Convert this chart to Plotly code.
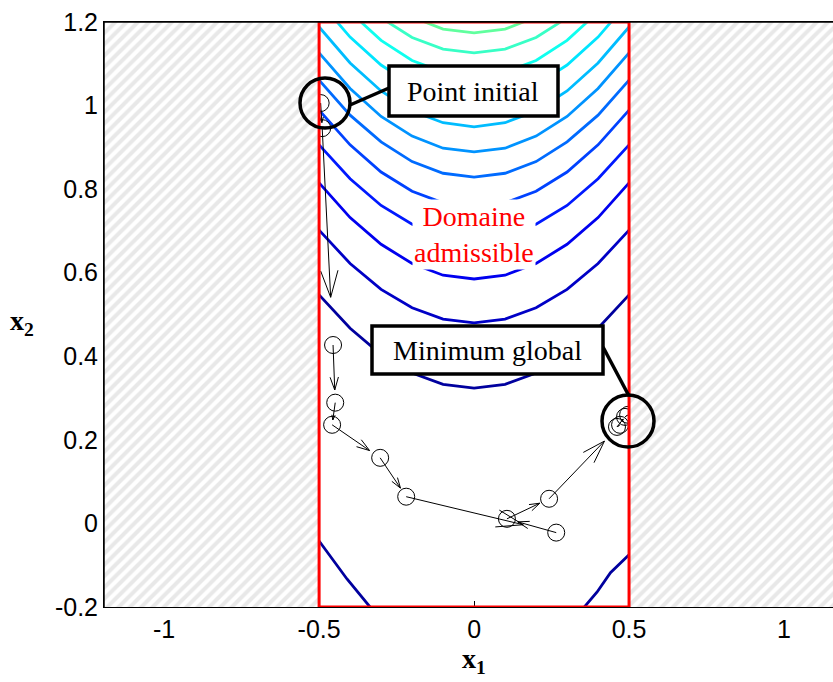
import math
import plotly.graph_objects as go

# ---------------- axes ----------------
X_RANGE = [-1.194, 1.158]
Y_RANGE = [-0.2, 1.2]
x_ticks = [-1, -0.5, 0, 0.5, 1]
x_ticklabels = ["-1", "-0.5", "0", "0.5", "1"]
y_ticks = [-0.2, 0, 0.2, 0.4, 0.6, 0.8, 1.0, 1.2]
y_ticklabels = ["-0.2", "0", "0.2", "0.4", "0.6", "0.8", "1", "1.2"]

# admissible domain
domain_x = [-0.5, 0.5]
domain_y = [-0.2, 1.2]

# ---------------- contour lines ----------------
contour_x = [-0.5, -0.4, -0.3, -0.2, -0.1, 0.0, 0.1, 0.2, 0.3, 0.4, 0.5]
contour_1 = [0.547, 0.467, 0.404, 0.360, 0.333, 0.324, 0.333, 0.360, 0.404, 0.467, 0.547]
contour_2 = [0.702, 0.622, 0.560, 0.516, 0.489, 0.480, 0.489, 0.516, 0.560, 0.622, 0.702]
contour_3 = [0.815, 0.732, 0.668, 0.622, 0.594, 0.585, 0.594, 0.622, 0.668, 0.732, 0.815]
contour_4 = [0.906, 0.825, 0.761, 0.716, 0.689, 0.680, 0.689, 0.716, 0.761, 0.825, 0.906]
contour_5 = [0.989, 0.906, 0.841, 0.795, 0.767, 0.758, 0.767, 0.795, 0.841, 0.906, 0.989]
contour_6 = [1.061, 0.977, 0.913, 0.866, 0.838, 0.829, 0.838, 0.866, 0.913, 0.977, 1.061]
contour_7 = [1.126, 1.041, 0.974, 0.927, 0.898, 0.889, 0.898, 0.927, 0.974, 1.041, 1.126]
contour_8 = [1.188, 1.102, 1.035, 0.987, 0.959, 0.949, 0.959, 0.987, 1.035, 1.102, 1.188]
contour_9 = [1.250, 1.164, 1.097, 1.049, 1.021, 1.011, 1.021, 1.049, 1.097, 1.164, 1.250]
contour_10 = [1.310, 1.224, 1.156, 1.108, 1.080, 1.070, 1.080, 1.108, 1.156, 1.224, 1.310]
contour_11 = [1.360, 1.276, 1.210, 1.163, 1.135, 1.126, 1.135, 1.163, 1.210, 1.276, 1.360]
contour_12 = [1.410, 1.325, 1.259, 1.212, 1.183, 1.174, 1.183, 1.212, 1.259, 1.325, 1.410]
upper_contours = [contour_1, contour_2, contour_3, contour_4, contour_5, contour_6,
                  contour_7, contour_8, contour_9, contour_10, contour_11, contour_12]
contour_levels = [0.03 + 0.04 * i for i in range(12)]

low_left_x = [-0.5, -0.41, -0.33]
low_left_y = [-0.042, -0.133, -0.205]
low_right_x = [0.5, 0.44, 0.397, 0.35]
low_right_y = [-0.075, -0.118, -0.164, -0.205]
low_level = 0.03

# ---------------- optimisation path ----------------
traj_x = [-0.495, -0.49, -0.455, -0.448, -0.458, -0.303, -0.219, 0.265, 0.106, 0.242,
          0.471, 0.461, 0.487, 0.497]
traj_y = [1.006, 0.946, 0.427, 0.289, 0.236, 0.157, 0.064, -0.022, 0.011, 0.059,
          0.236, 0.231, 0.255, 0.26]

# ---------------- layout geometry ----------------
W, H = 833, 682
ML, MR, MT, MB = 104, 0, 22, 75
PW, PH = W - ML - MR, H - MT - MB
SX = PW / (X_RANGE[1] - X_RANGE[0])
SY = PH / (Y_RANGE[1] - Y_RANGE[0])


def px2x(p):
    return X_RANGE[0] + (p - ML) / SX


def px2y(p):
    return Y_RANGE[1] - (p - MT) / SY


def jet(t):
    r = min(max(min(4 * t - 1.5, -4 * t + 4.5), 0), 1)
    g = min(max(min(4 * t - 0.5, -4 * t + 3.5), 0), 1)
    b = min(max(min(4 * t + 0.5, -4 * t + 2.5), 0), 1)
    return f"rgb({int(r*255)},{int(g*255)},{int(b*255)})"


fig = go.Figure()

# contour lines
for ys, lv in zip(upper_contours, contour_levels):
    fig.add_trace(go.Scatter(x=contour_x, y=ys, mode="lines",
                             line=dict(color=jet(lv), width=2.8), hoverinfo="skip",
                             showlegend=False))
for xs, ys in [(low_left_x, low_left_y), (low_right_x, low_right_y)]:
    fig.add_trace(go.Scatter(x=xs, y=ys, mode="lines",
                             line=dict(color=jet(low_level), width=2.8), hoverinfo="skip",
                             showlegend=False))

# arrows of the path (quiver-like, open heads)
ax_, ay_ = [], []
FRAC, HEAD_ANG = 0.78, math.radians(18)


def to_data(a, b):
    return (X_RANGE[0] + a / SX, Y_RANGE[1] - b / SY)


for i in range(len(traj_x) - 1):
    x0p = (traj_x[i] - X_RANGE[0]) * SX
    y0p = (Y_RANGE[1] - traj_y[i]) * SY
    x1p = (traj_x[i + 1] - X_RANGE[0]) * SX
    y1p = (Y_RANGE[1] - traj_y[i + 1]) * SY
    tx, ty = x0p + FRAC * (x1p - x0p), y0p + FRAC * (y1p - y0p)
    L = math.hypot(tx - x0p, ty - y0p)
    if L < 1e-6:
        continue
    h = min(0.3 * L, 28)
    ang = math.atan2(y0p - ty, x0p - tx)
    p0, pt = to_data(x0p, y0p), to_data(tx, ty)
    h1 = to_data(tx + h * math.cos(ang + HEAD_ANG), ty + h * math.sin(ang + HEAD_ANG))
    h2 = to_data(tx + h * math.cos(ang - HEAD_ANG), ty + h * math.sin(ang - HEAD_ANG))
    ax_ += [p0[0], pt[0], None, h1[0], pt[0], h2[0], None]
    ay_ += [p0[1], pt[1], None, h1[1], pt[1], h2[1], None]
fig.add_trace(go.Scatter(x=ax_, y=ay_, mode="lines", line=dict(color="black", width=1),
                         hoverinfo="skip", showlegend=False))
fig.add_trace(go.Scatter(x=traj_x, y=traj_y, mode="markers",
                         marker=dict(symbol="circle-open", size=17, color="black",
                                     line=dict(width=1, color="black")),
                         hoverinfo="skip", showlegend=False))

# hatched non-admissible regions
hatch = dict(shape="/", fgcolor="#d2d2d2", bgcolor="white", size=8, solidity=0.5)
for xa, xb in [(X_RANGE[0] - 0.05, domain_x[0]), (domain_x[1], X_RANGE[1] + 0.05)]:
    fig.add_trace(go.Scatter(x=[xa, xb, xb, xa, xa],
                             y=[domain_y[0], domain_y[0], domain_y[1], domain_y[1], domain_y[0]],
                             mode="lines", fill="toself", fillpattern=hatch,
                             line=dict(width=0, color="rgba(0,0,0,0)"),
                             hoverinfo="skip", showlegend=False))

shapes = []
# admissible domain border
shapes.append(dict(type="rect", xref="x", yref="y", x0=domain_x[0], x1=domain_x[1],
                   y0=domain_y[0], y1=domain_y[1], line=dict(color="red", width=3)))
# frame lines top / left
shapes.append(dict(type="line", xref="paper", yref="paper", x0=0, x1=1, y0=1, y1=1,
                   line=dict(color="black", width=1.5)))
shapes.append(dict(type="line", xref="paper", yref="paper", x0=0, x1=0, y0=0, y1=1,
                   line=dict(color="black", width=1.5)))


def circle(cx, cy, r):
    return dict(type="circle", xref="x", yref="y",
                x0=px2x(cx - r), x1=px2x(cx + r), y0=px2y(cy + r), y1=px2y(cy - r),
                line=dict(color="black", width=3.5))


def rect(xa, ya, xb, yb):
    return dict(type="rect", xref="x", yref="y", x0=px2x(xa), x1=px2x(xb),
                y0=px2y(yb), y1=px2y(ya), fillcolor="white",
                line=dict(color="black", width=3.5))


def seg(xa, ya, xb, yb):
    return dict(type="line", xref="x", yref="y", x0=px2x(xa), x1=px2x(xb),
                y0=px2y(ya), y1=px2y(yb), line=dict(color="black", width=3.5))


# callouts
shapes += [circle(325, 103, 25), seg(350, 105, 389, 88), rect(389, 66, 558, 116)]
shapes += [circle(628, 421, 26), seg(603, 347, 629, 396), rect(372, 326, 603, 374)]

annotations = [
    dict(x=px2x(473), y=px2y(91), xref="x", yref="y", text="Point initial", showarrow=False,
         font=dict(family="Liberation Serif", size=28, color="black")),
    dict(x=px2x(487), y=px2y(350), xref="x", yref="y", text="Minimum global", showarrow=False,
         font=dict(family="Liberation Serif", size=28, color="black")),
    dict(x=0, y=px2y(234), xref="x", yref="y", text="Domaine<br>admissible", showarrow=False,
         font=dict(family="Liberation Serif", size=28, color="red"), bgcolor="white"),
    dict(x=0, y=0, xref="x", yref="paper", yshift=-53, text="<b>x</b><sub><b>1</b></sub>",
         showarrow=False, yanchor="middle",
         font=dict(family="Liberation Serif", size=28, color="black")),
    dict(x=0, y=px2y(322), xref="paper", yref="y", xshift=-82, text="<b>x</b><sub><b>2</b></sub>",
         showarrow=False, xanchor="center",
         font=dict(family="Liberation Serif", size=28, color="black")),
]

fig.update_layout(
    width=W, height=H, margin=dict(l=ML, r=MR, t=MT, b=MB),
    plot_bgcolor="white", paper_bgcolor="white", showlegend=False,
    shapes=shapes, annotations=annotations,
    font=dict(family="Liberation Sans", size=25, color="black"),
)
fig.update_xaxes(range=X_RANGE, tickvals=x_ticks, ticktext=x_ticklabels, ticks="inside",
                 ticklen=6, tickcolor="black", showgrid=False, zeroline=False,
                 showline=True, linecolor="black", mirror=True, layer="below traces",
                 tickfont=dict(family="Liberation Sans", size=25))
fig.update_yaxes(range=Y_RANGE, tickvals=y_ticks, ticktext=y_ticklabels, ticks="inside",
                 ticklen=6, tickcolor="black", showgrid=False, zeroline=False,
                 showline=True, linecolor="black", mirror=True, layer="below traces",
                 tickfont=dict(family="Liberation Sans", size=25))

fig.write_html("out.html", config={"displayModeBar": False},
               post_script="document.body.style.margin='0';")
